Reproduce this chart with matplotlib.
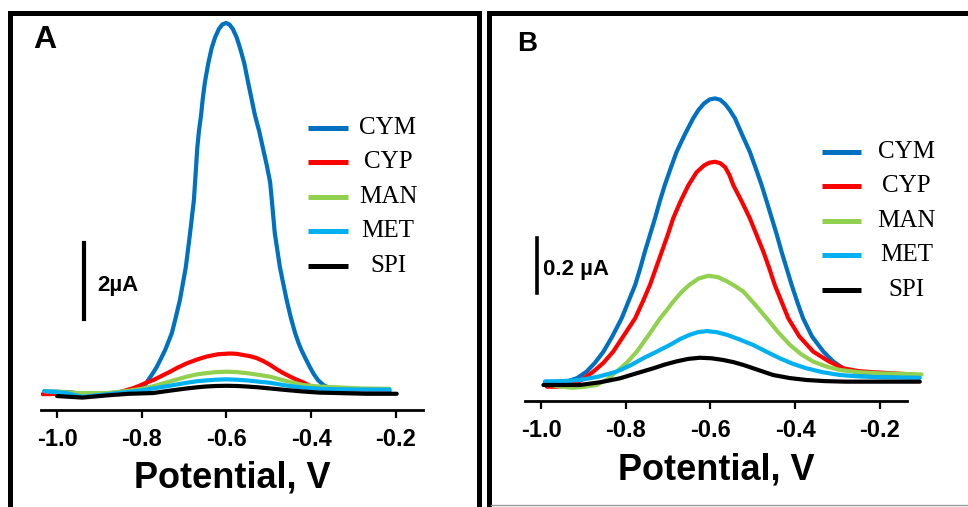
import matplotlib
matplotlib.use('Agg')
import matplotlib.pyplot as plt
from matplotlib.patches import Rectangle
from matplotlib.lines import Line2D

# series names and colours
names = ['CYM', 'CYP', 'MAN', 'MET', 'SPI']
colors = ['#0070C0', '#FF0000', '#92D050', '#00B0F0', '#000000']

tick_vals = [-1.0, -0.8, -0.6, -0.4, -0.2]
tick_labels = ['-1.0', '-0.8', '-0.6', '-0.4', '-0.2']

# ---- panel A (potential in V, current in uA)
cym_a_v = [-1.03, -0.97, -0.92, -0.87, -0.83, -0.805, -0.793, -0.785, -0.775, -0.765, -0.755, -0.745,
           -0.737, -0.729, -0.720, -0.710, -0.703, -0.696, -0.686, -0.677, -0.673, -0.669, -0.665,
           -0.660, -0.656, -0.651, -0.643, -0.635, -0.627, -0.618, -0.610, -0.601, -0.593, -0.585,
           -0.576, -0.568, -0.558, -0.549, -0.541, -0.533, -0.523, -0.514, -0.505, -0.497, -0.493,
           -0.486, -0.474, -0.466, -0.458, -0.448, -0.438, -0.430, -0.423, -0.413, -0.403, -0.394,
           -0.384, -0.370, -0.356, -0.33, -0.30, -0.26, -0.215]
cym_a_i = [0.05, 0.02, -0.05, 0.0, 0.05, 0.10, 0.2, 0.34, 0.50, 0.68, 0.90, 1.13,
           1.35, 1.58, 1.98, 2.45, 2.88, 3.32, 4.21, 5.08, 5.75, 6.45, 6.9,
           7.32, 7.75, 8.18, 8.68, 9.08, 9.36, 9.58, 9.70, 9.74, 9.70, 9.58,
           9.36, 9.08, 8.68, 8.18, 7.75, 7.32, 6.9, 6.45, 6.0, 5.55, 5.08,
           4.21, 3.32, 2.88, 2.45, 1.98, 1.58, 1.32, 1.13, 0.90, 0.68, 0.50,
           0.34, 0.20, 0.13, 0.08, 0.06, 0.05, 0.05]
cyp_a_v = [-1.034, -0.97, -0.92, -0.868, -0.85, -0.835, -0.82, -0.804, -0.79, -0.773, -0.755, -0.735,
           -0.715, -0.694, -0.67, -0.647, -0.62, -0.592, -0.575, -0.56, -0.545, -0.529, -0.513,
           -0.497, -0.482, -0.467, -0.453, -0.44, -0.419, -0.403, -0.39, -0.379, -0.36, -0.34,
           -0.30, -0.22]
cyp_a_i = [-0.03, -0.02, -0.01, 0.0, 0.03, 0.08, 0.13, 0.2, 0.27, 0.34, 0.44, 0.55,
           0.67, 0.78, 0.88, 0.96, 1.02, 1.04, 1.03, 1.00, 0.97, 0.92, 0.84,
           0.74, 0.63, 0.53, 0.45, 0.38, 0.28, 0.19, 0.15, 0.12, 0.09, 0.06,
           0.05, 0.05]
man_a_v = [-1.03, -0.95, -0.88, -0.83, -0.80, -0.773, -0.735, -0.694, -0.67, -0.65, -0.625, -0.60,
           -0.575, -0.55, -0.525, -0.497, -0.46, -0.419, -0.38, -0.34, -0.28, -0.215]
man_a_i = [0.05, 0.0, 0.0, 0.06, 0.11, 0.18, 0.30, 0.43, 0.49, 0.52, 0.55, 0.56,
           0.55, 0.52, 0.48, 0.43, 0.32, 0.21, 0.17, 0.15, 0.12, 0.11]
met_a_v = [-1.03, -0.98, -0.94, -0.88, -0.83, -0.80, -0.773, -0.735, -0.694, -0.67, -0.65, -0.625,
           -0.60, -0.575, -0.55, -0.525, -0.497, -0.46, -0.419, -0.38, -0.34, -0.28, -0.215]
met_a_i = [0.05, 0.0, -0.10, -0.03, 0.03, 0.07, 0.12, 0.19, 0.27, 0.31, 0.33, 0.35,
           0.36, 0.35, 0.33, 0.30, 0.27, 0.20, 0.14, 0.11, 0.10, 0.09, 0.09]
spi_a_v = [-1.0, -0.94, -0.88, -0.83, -0.80, -0.773, -0.735, -0.694, -0.67, -0.65, -0.625, -0.60,
           -0.575, -0.55, -0.525, -0.497, -0.46, -0.419, -0.38, -0.34, -0.27, -0.198]
spi_a_i = [-0.08, -0.12, -0.06, -0.02, -0.01, 0.0, 0.06, 0.12, 0.15, 0.17, 0.185, 0.19,
           0.185, 0.17, 0.15, 0.12, 0.08, 0.04, 0.01, 0.0, -0.02, -0.02]

# ---- panel B
cym_b_v = [-0.991, -0.965, -0.94, -0.915, -0.893, -0.873, -0.853, -0.832, -0.810, -0.794, -0.778,
           -0.766, -0.755, -0.743, -0.731, -0.72, -0.708, -0.694, -0.680, -0.661, -0.641, -0.628,
           -0.615, -0.602, -0.589, -0.577, -0.565, -0.554, -0.542, -0.525, -0.507, -0.493, -0.479,
           -0.467, -0.455, -0.443, -0.432, -0.42, -0.408, -0.395, -0.381, -0.36, -0.333, -0.31,
           -0.286, -0.25, -0.215, -0.16, -0.109]
cym_b_i = [0.007, 0.008, 0.012, 0.025, 0.048, 0.08, 0.120, 0.175, 0.240, 0.30, 0.360,
           0.42, 0.480, 0.54, 0.600, 0.66, 0.719, 0.78, 0.839, 0.90, 0.959, 0.99,
           1.013, 1.027, 1.031, 1.026, 1.01, 0.988, 0.959, 0.90, 0.839, 0.78, 0.719,
           0.66, 0.600, 0.54, 0.480, 0.42, 0.360, 0.30, 0.240, 0.175, 0.120, 0.085,
           0.060, 0.044, 0.036, 0.032, 0.030]
cyp_b_v = [-0.987, -0.96, -0.93, -0.905, -0.877, -0.853, -0.830, -0.804, -0.778, -0.76, -0.743,
           -0.729, -0.715, -0.701, -0.688, -0.671, -0.652, -0.633, -0.615, -0.602, -0.589, -0.577,
           -0.565, -0.555, -0.546, -0.526, -0.507, -0.491, -0.475, -0.461, -0.448, -0.432, -0.416,
           -0.39, -0.357, -0.32, -0.286, -0.25, -0.215, -0.124]
cyp_b_i = [-0.006, -0.006, 0.0, 0.018, 0.048, 0.08, 0.120, 0.18, 0.240, 0.30, 0.360,
           0.42, 0.480, 0.54, 0.600, 0.66, 0.719, 0.765, 0.79, 0.800, 0.803, 0.798,
           0.783, 0.755, 0.719, 0.66, 0.600, 0.54, 0.480, 0.42, 0.360, 0.30, 0.240,
           0.175, 0.120, 0.085, 0.060, 0.05, 0.046, 0.038]
man_b_v = [-0.99, -0.96, -0.925, -0.895, -0.869, -0.845, -0.822, -0.798, -0.774, -0.746, -0.719,
           -0.703, -0.688, -0.668, -0.65, -0.628, -0.605, -0.582, -0.56, -0.541, -0.522, -0.495,
           -0.467, -0.44, -0.412, -0.385, -0.357, -0.325, -0.294, -0.25, -0.20, -0.101]
man_b_i = [0.005, -0.005, -0.01, -0.006, 0.0, 0.02, 0.048, 0.08, 0.120, 0.18, 0.240,
           0.27, 0.300, 0.335, 0.36, 0.383, 0.393, 0.388, 0.372, 0.355, 0.336, 0.29,
           0.240, 0.19, 0.144, 0.11, 0.084, 0.066, 0.054, 0.046, 0.042, 0.038]
met_b_v = [-0.991, -0.95, -0.909, -0.865, -0.822, -0.79, -0.759, -0.727, -0.696, -0.672, -0.65,
           -0.63, -0.609, -0.585, -0.56, -0.53, -0.499, -0.468, -0.436, -0.405, -0.373, -0.335,
           -0.294, -0.25, -0.20, -0.105]
met_b_i = [0.013, 0.014, 0.018, 0.03, 0.048, 0.07, 0.096, 0.12, 0.144, 0.165, 0.18,
           0.19, 0.194, 0.19, 0.18, 0.163, 0.144, 0.12, 0.096, 0.076, 0.060, 0.046,
           0.036, 0.031, 0.028, 0.026]
spi_b_v = [-0.995, -0.95, -0.909, -0.86, -0.814, -0.775, -0.735, -0.707, -0.68, -0.652, -0.625,
           -0.597, -0.57, -0.545, -0.522, -0.487, -0.452, -0.413, -0.373, -0.33, -0.28, -0.105]
spi_b_i = [0.0, 0.0, 0.0, 0.01, 0.024, 0.042, 0.060, 0.074, 0.085, 0.094, 0.098,
           0.096, 0.09, 0.082, 0.072, 0.054, 0.036, 0.025, 0.018, 0.014, 0.012, 0.012]

curves_a = [(cym_a_v, cym_a_i), (cyp_a_v, cyp_a_i), (man_a_v, man_a_i), (met_a_v, met_a_i), (spi_a_v, spi_a_i)]
curves_b = [(cym_b_v, cym_b_i), (cyp_b_v, cyp_b_i), (man_b_v, man_b_i), (met_b_v, met_b_i), (spi_b_v, spi_b_i)]

SANS = 'Liberation Sans'
SERIF = 'Liberation Serif'

plt.rcParams['font.family'] = [SANS, 'DejaVu Sans']
plt.rcParams['font.weight'] = 'bold'
plt.rcParams['xtick.labelsize'] = 17

W, H = 968, 507
fig = plt.figure(figsize=(W / 100, H / 100), dpi=100)


def px_box(left, right, top, bottom):
    return [left / W, (H - bottom) / H, (right - left) / W, (bottom - top) / H]


def setup(ax, xlim, ylim, lpad):
    ax.set_xlim(*xlim)
    ax.set_ylim(*ylim)
    for s in ['top', 'left', 'right']:
        ax.spines[s].set_visible(False)
    ax.spines['bottom'].set_linewidth(2.0)
    ax.set_yticks([])
    ax.set_xticks(tick_vals, tick_labels)
    ax.tick_params(axis='x', direction='out', length=6, width=1.6, pad=7)
    ax.set_xlabel('Potential, V', fontweight='bold', fontsize=26, labelpad=lpad)


def legend(ax, x0, x1, xt, y0, step):
    for k, (n, c) in enumerate(zip(names, colors)):
        y = y0 - k * step
        ax.plot([x0, x1], [y, y], color=c, lw=3.6, transform=ax.transAxes, clip_on=False,
                solid_capstyle='butt')
        ax.text(xt, y, n, transform=ax.transAxes, ha='center', va='center',
                fontfamily=SERIF, fontweight='normal', fontsize=18)


# ---- panel A
axA = fig.add_axes(px_box(41, 423, 15, 410))
setup(axA, (-1.038, -0.136), (-0.447, 9.95), 7)
for (v, i), c in zip(curves_a, colors):
    axA.plot(v, i, color=c, lw=3.0, solid_capstyle='round', solid_joinstyle='round')
axA.plot([-0.9356, -0.9356], [1.95, 3.95], color='black', lw=3.0)
axA.text(-0.9056, 2.84, '2µA', fontweight='bold', fontsize=16, va='center', ha='left')
legend(axA, 0.699, 0.8037, 0.9084, 0.7147, 0.0874)

# ---- panel B
axB = fig.add_axes(px_box(525, 906.7, 15, 400.7))
setup(axB, (-1.0385, -0.136), (-0.0565, 1.331), 8)
for (v, i), c in zip(curves_b, colors):
    axB.plot(v, i, color=c, lw=3.0, clip_on=False, solid_capstyle='round', solid_joinstyle='round')
axB.plot([-1.0095, -1.0095], [0.33, 0.53], color='black', lw=2.6)
axB.text(-0.9953, 0.416, '0.2 µA', fontweight='bold', fontsize=16, va='center', ha='left')
legend(axB, 0.7781, 0.8795, 0.9997, 0.6456, 0.0896)

# panel letters
fig.text(33 / W, 1 - 25 / H, 'A', fontweight='bold', fontsize=23, va='top')
fig.text(517 / W, 1 - 31 / H, 'B', fontweight='bold', fontsize=20, va='top')

# frames round the panels
fig.add_artist(Rectangle((10 / W, -0.05), (478.5 - 10) / W, 1.05 - 12.5 / H,
                         transform=fig.transFigure, fill=False, ec='black', lw=3.6))
fig.add_artist(Rectangle((488.5 / W, -0.05), 0.6, 1.05 - 12.5 / H,
                         transform=fig.transFigure, fill=False, ec='black', lw=3.6))
fig.add_artist(Line2D([491 / W, 1.0], [2 / H, 2 / H], transform=fig.transFigure, color='#999999', lw=1))

fig.savefig('out.png', dpi=100)
